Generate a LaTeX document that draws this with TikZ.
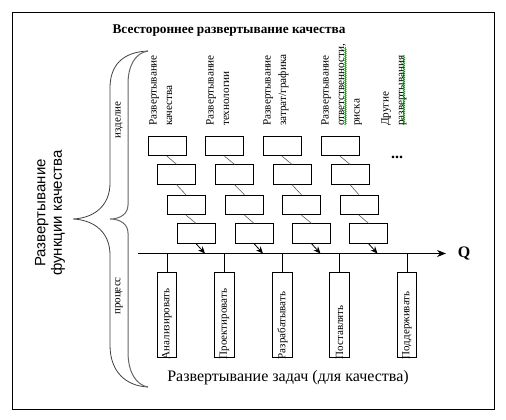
\documentclass[tikz,border=0pt]{standalone}
\usepackage{fontspec}
\setmainfont{Liberation Serif}
\newfontfamily\arialf{Liberation Sans}
\usetikzlibrary{arrows.meta,decorations.pathmorphing}
\begin{document}
\begin{tikzpicture}[x=1pt,y=-1pt,
  box/.style={draw,thick,minimum width=38pt,minimum height=19.5pt,inner sep=0pt},
  tbox/.style={draw,thick,minimum width=19.5pt,minimum height=85pt,inner sep=0pt},
  link/.style={draw=gray!70!black,line width=0.6pt},
  vlab/.style={rotate=90,anchor=north west,inner sep=0pt,align=left,font=\fontsize{11.2}{15.5}\selectfont},
  tlab/.style={rotate=90,anchor=west,inner sep=0pt,font=\fontsize{11}{12}\selectfont},
  brace/.style={draw=black!75,line width=0.8pt},
  squig/.style={draw=green!55!black,line width=0.5pt,decorate,decoration={snake,segment length=2pt,amplitude=0.8pt}}]
\useasboundingbox (0,0) rectangle (506,420);
\node[draw,line width=0.9pt,minimum width=482pt,minimum height=397pt,inner sep=0pt,anchor=north west] (frame) at (12,12) {};
\node[font=\bfseries\fontsize{13.3}{15}\selectfont] (title) at (229,31) {Всестороннее развертывание качества};
% column labels
\node[vlab] (c1) at (149,126) {Развертывание\\качества};
\node[vlab] (c2) at (206,126) {Развертывание\\технологии};
\node[vlab] (c3) at (263,126) {Развертывание\\затрат/графика};
\node[vlab] (c4) at (321,126) {Развертывание\\ответственности,\\риска};
\node[vlab] (c5) at (381,126) {Другие\\развертывания};
% spell-check marks
\coordinate (q1a) at (345.5,125);
\coordinate (q1b) at (345.5,47);
\coordinate (q2a) at (404,125);
\coordinate (q2b) at (404,55);
\draw[squig] (q1a) -- (q1b);
\draw[squig] (q2a) -- (q2b);
% boxes
\node[box] (a1) at (167,146) {};
\node[box] (a2) at (224.5,146) {};
\node[box] (a3) at (282,146) {};
\node[box] (a4) at (340,146) {};
\node[box] (b1) at (176.5,174.5) {};
\node[box] (b2) at (234.5,174.5) {};
\node[box] (b3) at (292,174.5) {};
\node[box] (b4) at (350,174.5) {};
\node[box] (d1) at (186,205) {};
\node[box] (d2) at (244.5,205) {};
\node[box] (d3) at (301.5,205) {};
\node[box] (d4) at (359,205) {};
\node[box] (e1) at (196,233.5) {};
\node[box] (e2) at (254,233.5) {};
\node[box] (e3) at (311.5,233.5) {};
\node[box] (e4) at (368.5,233.5) {};
\foreach \i in {1,2,3,4}{
  \draw[link] (a\i.south) -- (b\i.north);
  \draw[link] (b\i.south) -- (d\i.north);
  \draw[link] (d\i.south) -- (e\i.north);
}
\node[font=\bfseries\fontsize{16}{16}\selectfont,inner sep=0pt] (dots) at (397,157) {...};
% axis
\coordinate (ax0) at (138,253.5);
\coordinate (ax1) at (446,253.5);
\draw[line width=1.3pt,-{Stealth[length=9pt,width=7pt]}] (ax0) -- (ax1);
\node[font=\bfseries\fontsize{16}{16}\selectfont] (Q) at (464,253) {Q};
\coordinate (p1) at (205,253.5);
\coordinate (p2) at (263,253.5);
\coordinate (p3) at (320.5,253.5);
\coordinate (p4) at (377.5,253.5);
\foreach \i in {1,2,3,4}{
  \draw[line width=0.8pt,-{Stealth[length=7pt,width=6pt]}] (e\i.south) -- (p\i);
}
% task boxes
\node[tbox] (t1) at (167,314.5) {};
\node[tbox] (t2) at (224.5,314.5) {};
\node[tbox] (t3) at (282.5,314.5) {};
\node[tbox] (t4) at (339.5,314.5) {};
\node[tbox] (t5) at (407,314.5) {};
\foreach \i/\t in {1/Анализировать,2/Проектировать,3/Разрабатывать,4/Поставлять,5/Поддерживать}{
  \coordinate (s\i) at (t\i.north |- ax0);
  \draw[thick] (s\i) -- (t\i.north);
  \node[tlab] (l\i) at ([yshift=-2pt]t\i.south) {\t};
}
\node[font=\fontsize{16}{18}\selectfont] (bottom) at (288,378) {Развертывание задач (для качества)};
% braces
\coordinate (btop) at (148,51);
\coordinate (bbot) at (148,387);
\draw[brace] (btop) .. controls (122,52) and (110,66) .. (110,88) -- (110,183)
  .. controls (110,205) and (95,218) .. (73,219)
  .. controls (95,220) and (110,233) .. (110,255) -- (110,345)
  .. controls (110,372) and (126,386) .. (bbot);
\draw[brace,draw=black!60,line width=1pt] (btop) .. controls (135,53) and (128,66) .. (128,84) -- (128,205)
  .. controls (128,214) and (120,219) .. (110,219)
  .. controls (120,219) and (128,224) .. (128,233) -- (128,352)
  .. controls (128,372) and (136,385) .. (bbot);
\node[rotate=90,font=\fontsize{11}{12}\selectfont] (izd) at (119,120) {изделие};
\node[rotate=90,font=\fontsize{11}{12}\selectfont] (proc) at (119,296) {процесс};
\node[rotate=90,align=center,font=\arialf\fontsize{15}{16.5}\selectfont] (left) at (50,213) {Развертывание\\функции качества};
\end{tikzpicture}
\end{document}
